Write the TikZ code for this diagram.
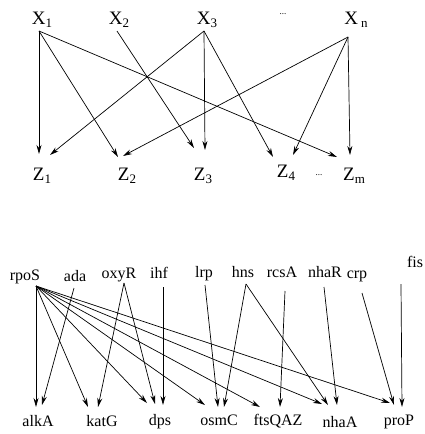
\documentclass[tikz,border=0pt]{standalone}
\usepackage{fontspec}
\setmainfont{Liberation Serif}
\usetikzlibrary{arrows.meta}
\newcommand{\sbx}[1]{\raisebox{-0.4ex}{\fontsize{13}{13}\selectfont #1}}
\begin{document}
\begin{tikzpicture}[x=1pt,y=-1pt,
  lab/.style={inner sep=0pt, anchor=base, font=\fontsize{16}{16}\selectfont},
  biglab/.style={inner sep=0pt, anchor=base, font=\fontsize{19}{19}\selectfont},
  arr/.style={-{Stealth[length=9pt,width=5pt]}, line width=0.7pt}]
\useasboundingbox (0,0) rectangle (425,434);

% ---------- top graph ----------
\node[biglab] (X1) at (42,24) {X\sbx{1}};
\node[biglab] (X2) at (119,24) {X\sbx{2}};
\node[biglab] (X3) at (207,24) {X\sbx{3}};
\node[inner sep=0pt, font=\fontsize{9}{9}\selectfont] (Xd) at (283,14) {...};
\node[biglab] (Xn) at (356,24) {X\,\sbx{n}};

\node[biglab] (Z1) at (42,180) {Z\sbx{1}};
\node[biglab] (Z2) at (127,180) {Z\sbx{2}};
\node[biglab] (Z3) at (203,180) {Z\sbx{3}};
\node[biglab] (Z4) at (286,177) {Z\sbx{4}};
\node[inner sep=0pt, font=\fontsize{9}{9}\selectfont] (Zd) at (319,175) {...};
\node[biglab] (Zm) at (354,180) {Z\sbx{m}};

\coordinate (X1o) at (39,31);
\coordinate (X2o) at (117,31);
\coordinate (X3o) at (204,31);
\coordinate (Xno) at (348,37);

\coordinate (Z1a) at (39,154);
\coordinate (Z1b) at (50,155);
\coordinate (Z2a) at (118,157);
\coordinate (Z2b) at (123,156);
\coordinate (Z3a) at (194,148);
\coordinate (Z3b) at (205,150);
\coordinate (Z4a) at (273,157);
\coordinate (Z4b) at (293,155);
\coordinate (Zma) at (337,157);
\coordinate (Zmb) at (350,155);

\draw[arr] (X1o) -- (Z1a);
\draw[arr] (X1o) -- (Z2a);
\draw[arr] (X1o) -- (Zma);
\draw[arr] (X2o) -- (Z3a);
\draw[arr] (X3o) -- (Z1b);
\draw[arr] (X3o) -- (Z3b);
\draw[arr] (X3o) -- (Z4a);
\draw[arr] (Xno) -- (Z2b);
\draw[arr] (Xno) -- (Z4b);
\draw[arr] (Xno) -- (Zmb);

% ---------- bottom graph ----------
\node[lab] (rpoS) at (25,280) {rpoS};
\node[lab] (ada) at (75,281) {ada};
\node[lab] (oxyR) at (119,278) {oxyR};
\node[lab] (ihf) at (159,278) {ihf};
\node[lab] (lrp) at (204,277) {lrp};
\node[lab] (hns) at (243,277) {hns};
\node[lab] (rcsA) at (282,277) {rcsA};
\node[lab] (nhaR) at (325,277) {nhaR};
\node[lab] (crp) at (357,278) {crp};
\node[lab] (fis) at (415,267) {fis};

\node[lab] (alkA) at (38,426) {alkA};
\node[lab] (katG) at (102,426) {katG};
\node[lab] (dps) at (160,425) {dps};
\node[lab] (osmC) at (219,425) {osmC};
\node[lab] (ftsQAZ) at (278,425) {ftsQAZ};
\node[lab] (nhaA) at (340,427) {nhaA};
\node[lab] (proP) at (399,425) {proP};

\coordinate (rpoSo) at (36,286);
\coordinate (adao) at (74,288);
\coordinate (oxyRo) at (124,283);
\coordinate (ihfo) at (163,287);
\coordinate (lrpo) at (205,285);
\coordinate (hnso) at (246,284);
\coordinate (rcsAo) at (285,291);
\coordinate (nhaRo) at (324,287);
\coordinate (crpo) at (362,293);
\coordinate (fiso) at (401,284);

\coordinate (alkA1) at (36,407);
\coordinate (alkA2) at (42,405);
\coordinate (katG1) at (88,407);
\coordinate (katG2) at (98,407);
\coordinate (dps1) at (147,403);
\coordinate (dps2) at (155,404);
\coordinate (dps3) at (163,405);
\coordinate (osmC1) at (205,405);
\coordinate (osmC2) at (218,407);
\coordinate (osmC3) at (224,407);
\coordinate (ftsQAZ1) at (260,407);
\coordinate (ftsQAZ2) at (280,407);
\coordinate (nhaA1) at (322,404);
\coordinate (nhaA2) at (328,405);
\coordinate (nhaA3) at (337,405);
\coordinate (proP1) at (390,403);
\coordinate (proP2) at (394,405);
\coordinate (proP3) at (402,407);

\draw[arr] (rpoSo) -- (alkA1);
\draw[arr] (rpoSo) -- (katG1);
\draw[arr] (rpoSo) -- (dps1);
\draw[arr] (rpoSo) -- (osmC1);
\draw[arr] (rpoSo) -- (ftsQAZ1);
\draw[arr] (rpoSo) -- (nhaA1);
\draw[arr] (rpoSo) -- (proP1);
\draw[arr] (adao) -- (alkA2);
\draw[arr] (oxyRo) -- (katG2);
\draw[arr] (oxyRo) -- (dps2);
\draw[arr] (ihfo) -- (dps3);
\draw[arr] (lrpo) -- (osmC2);
\draw[arr] (hnso) -- (osmC3);
\draw[arr] (hnso) -- (nhaA2);
\draw[arr] (rcsAo) -- (ftsQAZ2);
\draw[arr] (nhaRo) -- (nhaA3);
\draw[arr] (crpo) -- (proP2);
\draw[arr] (fiso) -- (proP3);
\end{tikzpicture}
\end{document}
